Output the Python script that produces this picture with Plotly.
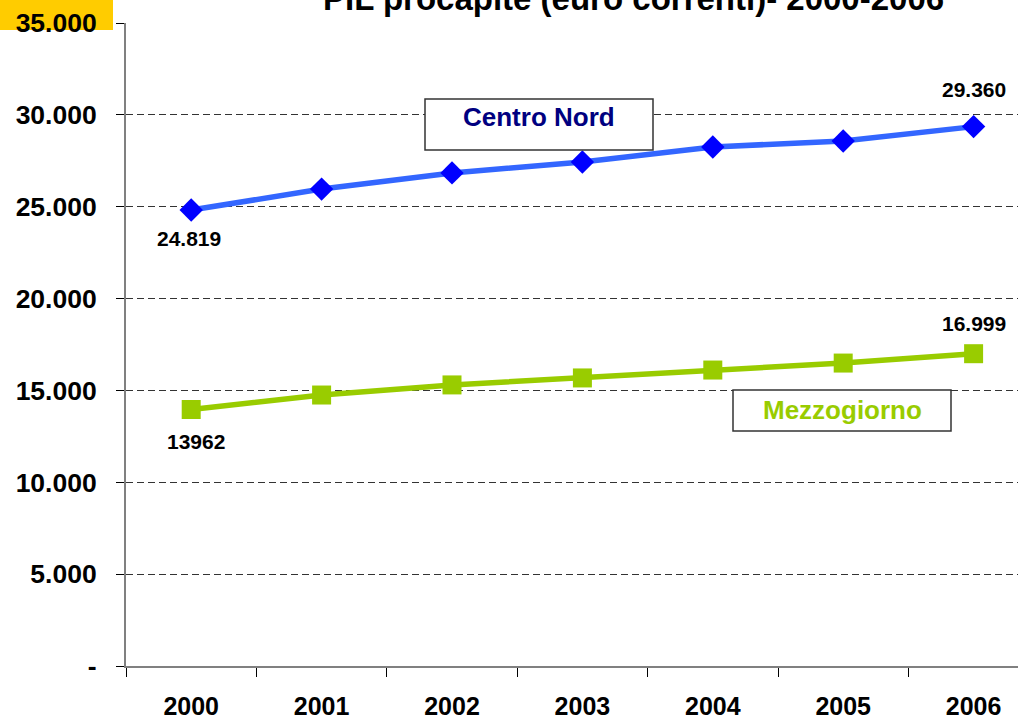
import plotly.graph_objects as go

years = ["2000", "2001", "2002", "2003", "2004", "2005", "2006"]
centro_nord = [24819, 25960, 26840, 27430, 28250, 28580, 29360]
mezzogiorno = [13962, 14750, 15300, 15680, 16110, 16490, 16999]
ytick_vals = [0, 5000, 10000, 15000, 20000, 25000, 30000, 35000]
ytick_text = ["-", "5.000", "10.000", "15.000", "20.000", "25.000", "30.000", "35.000"]
title_text = "PIL procapite (euro correnti)- 2000-2006"
cn_name = "Centro Nord"
mz_name = "Mezzogiorno"
cn_labels = {0: "24.819", 6: "29.360"}
mz_labels = {0: "13962", 6: "16.999"}

W, H = 1018, 719
L, T, B = 126, 23, 53
R = 0
PW = W - L - R
PH = H - T - B
FONT = "Liberation Sans, Arial"

def px(xp):
    return (xp - L) / PW

def py(yp):
    return (H - B - yp) / PH

fig = go.Figure()
fig.add_trace(go.Scatter(
    x=years, y=centro_nord, mode="lines+markers", name=cn_name,
    line=dict(color="#3366FF", width=5.5),
    marker=dict(symbol="diamond", size=18, color="#0000FF"),
    cliponaxis=False,
))
fig.add_trace(go.Scatter(
    x=years, y=mezzogiorno, mode="lines+markers", name=mz_name,
    line=dict(color="#99CC00", width=5.5),
    marker=dict(symbol="square", size=19, color="#99CC00"),
    cliponaxis=False,
))

annots = []
for i, t in cn_labels.items():
    shift = -28 if i == 0 else 37
    annots.append(dict(x=i, y=centro_nord[i], text=t, showarrow=False,
                       yshift=shift, xshift=-2 if i == 0 else 0,
                       font=dict(family=FONT, size=21, color="#000000", weight="bold")))
for i, t in mz_labels.items():
    shift = -32 if i == 0 else 30
    annots.append(dict(x=i, y=mezzogiorno[i], text=t, showarrow=False,
                       yshift=shift, xshift=5 if i == 0 else 0,
                       font=dict(family=FONT, size=21, color="#000000", weight="bold")))

annots.append(dict(xref="paper", yref="paper", x=px(539), y=py(117), text=cn_name,
                   xanchor="center", yanchor="middle",
                   showarrow=False, font=dict(family=FONT, size=26,
                                              color="#000080", weight="bold")))
annots.append(dict(xref="paper", yref="paper", x=px(842), y=py(410), text=mz_name,
                   xanchor="center", yanchor="middle",
                   showarrow=False, font=dict(family=FONT, size=26,
                                              color="#99CC00", weight="bold")))
annots.append(dict(xref="paper", yref="paper", x=px(633), y=py(19), yanchor="bottom",
                   xanchor="center",
                   text=title_text, showarrow=False,
                   font=dict(family=FONT, size=33, color="#000000", weight="bold")))

shapes = [
    dict(type="rect", xref="paper", yref="paper", x0=px(0), x1=px(113), y0=py(30), y1=py(-2),
         fillcolor="#FFCC00", line=dict(width=0), layer="below"),
    dict(type="rect", xref="paper", yref="paper", x0=px(425), x1=px(653), y0=py(150), y1=py(99),
         fillcolor="white", line=dict(color="#333333", width=1.5), layer="above"),
    dict(type="rect", xref="paper", yref="paper", x0=px(733), x1=px(951), y0=py(431), y1=py(390),
         fillcolor="white", line=dict(color="#333333", width=1.5), layer="above"),
]

# x range: plot area extends beyond the right edge
unit = 130.4
xmax = -0.5 + PW / unit

fig.update_layout(
    width=W, height=H,
    margin=dict(l=L, r=R, t=T, b=B, pad=0),
    paper_bgcolor="white", plot_bgcolor="white",
    showlegend=False,
    annotations=annots,
    shapes=shapes,
    font=dict(family=FONT),
    xaxis=dict(
        type="category", range=[-0.5, xmax], tickson="boundaries",
        ticks="outside", ticklen=9, tickcolor="#000000", tickwidth=1,
        showline=True, linecolor="#808080", linewidth=2,
        showgrid=False, zeroline=False,
        tickfont=dict(family=FONT, size=25, color="#000000", weight="bold"),
        ticklabelstandoff=17,
    ),
    yaxis=dict(
        range=[0, 35000], tickvals=ytick_vals, ticktext=ytick_text,
        ticks="outside", ticklen=8, tickcolor="#000000", tickwidth=1,
        showline=True, linecolor="#808080", linewidth=2,
        showgrid=True, gridcolor="#333333", gridwidth=1, griddash="7px,4px",
        zeroline=False,
        tickfont=dict(family=FONT, size=26.5, color="#000000", weight="bold"),
        ticklabelstandoff=14,
    ),
)

fig.write_html("out.html", config={"displayModeBar": False},
               post_script="document.body.style.margin='0';document.body.style.overflow='hidden';")
